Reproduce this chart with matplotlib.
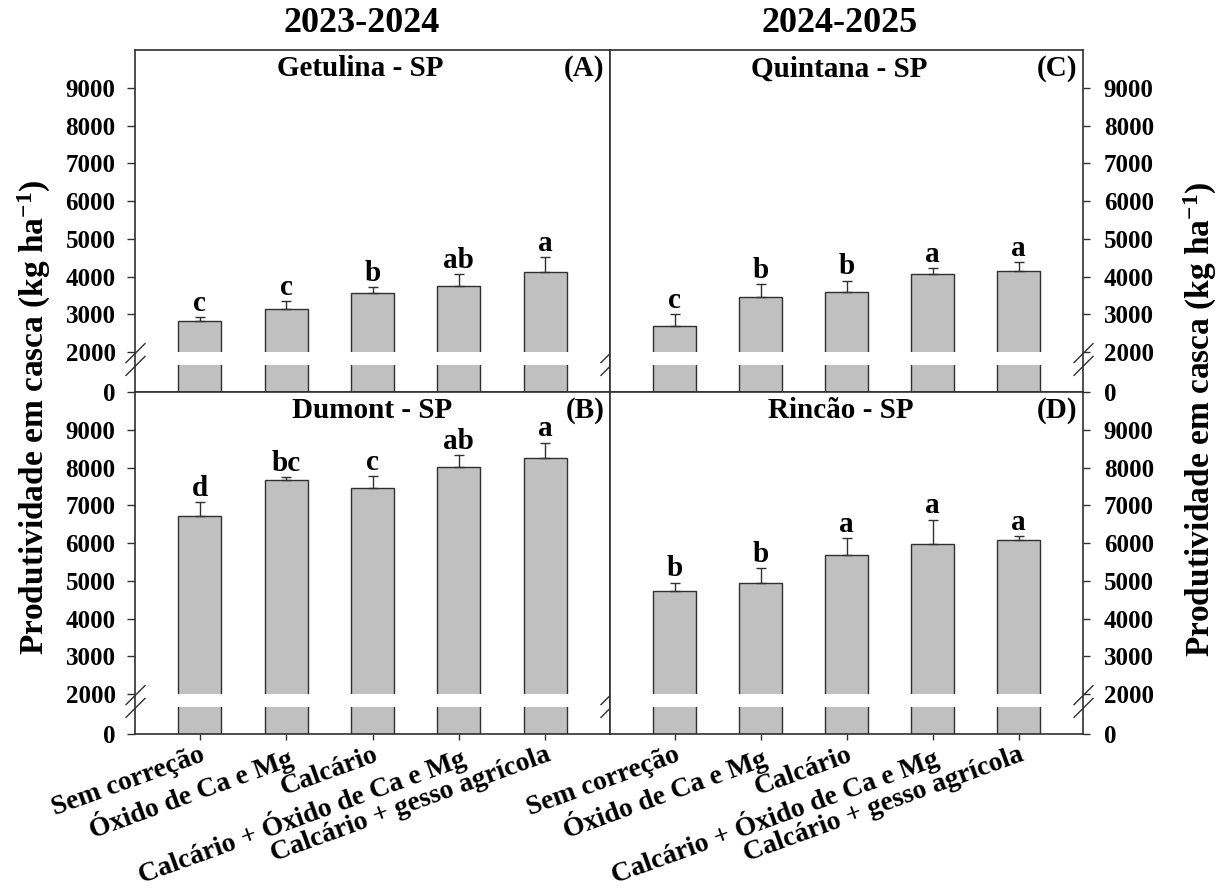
import numpy as np
import matplotlib
matplotlib.use("Agg")
import matplotlib.pyplot as plt
from matplotlib.path import Path

plt.rcParams['font.family'] = ['Liberation Serif', 'DejaVu Serif']
plt.rcParams['font.weight'] = 'bold'
plt.rcParams['mathtext.fontset'] = 'custom'
plt.rcParams['mathtext.rm'] = 'Liberation Serif:bold'
plt.rcParams['mathtext.default'] = 'rm'

# data
treatments = ["Sem correção", "Óxido de Ca e Mg", "Calcário",
              "Calcário + Óxido de Ca e Mg", "Calcário + gesso agrícola"]
years = ["2023-2024", "2024-2025"]

getulina = [2820, 3130, 3560, 3740, 4120]
getulina_err = [100, 220, 160, 325, 390]
getulina_let = ["c", "c", "b", "ab", "a"]

dumont = [6705, 7680, 7450, 8025, 8260]
dumont_err = [370, 60, 320, 300, 400]
dumont_let = ["d", "bc", "c", "ab", "a"]

quintana = [2700, 3450, 3580, 4065, 4145]
quintana_err = [300, 345, 310, 160, 245]
quintana_let = ["c", "b", "b", "a", "a"]

rincao = [4730, 4950, 5685, 5980, 6075]
rincao_err = [220, 380, 445, 640, 100]
rincao_let = ["b", "b", "a", "a", "a"]

yticks = [0, 2000, 3000, 4000, 5000, 6000, 7000, 8000, 9000]

# broken axis: 0-2000 squeezed below the break
BRK = 2000
K = 0.529


def fwd(v):
    v = np.asarray(v, dtype=float)
    return np.where(v >= BRK, v, BRK - (BRK - v) * K)


def inv(u):
    u = np.asarray(u, dtype=float)
    return np.where(u >= BRK, u, BRK - (BRK - u) / K)


gap_lo = 1335     # white band across the bars
mark_y = 1675     # centre of the // marks

brk_marker = Path([(-10, -3.6), (10, 16.4), (-10, -16.4), (10, 3.6)],
                  [Path.MOVETO, Path.LINETO, Path.MOVETO, Path.LINETO])

W, H = 1220, 893
fig = plt.figure(figsize=(12.2, 8.93), dpi=100)

lefts = [135 / W, 610 / W]
widths = [475 / W, 473 / W]
bottoms = [1 - 392 / H, 1 - 734 / H]
hgt = 342 / H

panels = [
    (0, 0, getulina, getulina_err, getulina_let, "Getulina - SP", "(A)", 0.474),
    (0, 1, dumont, dumont_err, dumont_let, "Dumont - SP", "(B)", 0.50),
    (1, 0, quintana, quintana_err, quintana_let, "Quintana - SP", "(C)", 0.484),
    (1, 1, rincao, rincao_err, rincao_let, "Rincão - SP", "(D)", 0.487),
]

x = np.arange(len(treatments))
edge = '#303030'

for col, row, vals, errs, lets, name, tag, tx in panels:
    ax = fig.add_axes([lefts[col], bottoms[row], widths[col], hgt])
    ax.set_yscale('function', functions=(fwd, inv))
    ax.bar(x, vals, width=0.5, color='#c0c0c0', edgecolor=edge, linewidth=1.0, zorder=2)
    ax.errorbar(x, vals, yerr=[np.zeros(len(vals)), errs], fmt='none',
                ecolor=edge, elinewidth=1.0, capsize=3.5, capthick=1.0, zorder=3)
    ax.axhspan(gap_lo, BRK - 5, color='white', lw=0, zorder=4)
    for xi, v, e, s in zip(x, vals, errs, lets):
        ax.annotate(s, (xi, v + e), xytext=(0, 4.5), textcoords='offset points',
                    ha='center', va='baseline', fontsize=21, fontweight='bold', zorder=6)
    ax.set_xlim(-0.75, 4.75)
    ax.set_ylim(0, 10000)
    ax.set_yticks(yticks, labels=[str(t) for t in yticks])
    ax.text(tx, 0.945, name, transform=ax.transAxes, ha='center', va='center',
            fontsize=21, fontweight='bold')
    ax.text(0.988, 0.945, tag, transform=ax.transAxes, ha='right', va='center',
            fontsize=21, fontweight='bold')
    for sp in ax.spines.values():
        sp.set_color(edge)
        sp.set_linewidth(1.2)
        sp.set_zorder(5)

    if col == 0:
        ax.tick_params(axis='y', direction='out', length=6, width=1, color=edge,
                       labelsize=18, pad=8, left=True, right=False)
    else:
        ax.tick_params(axis='y', direction='out', length=5, width=1, color=edge,
                       labelsize=18, pad=10, left=False, right=True,
                       labelleft=False, labelright=True)
    if row == 1:
        ax.set_xticks(x, labels=treatments)
        ax.tick_params(axis='x', direction='out', length=4, width=1, color=edge,
                       labelsize=20, pad=2)
        for lab in ax.get_xticklabels():
            lab.set_rotation(20)
            lab.set_ha('right')
            lab.set_va('top')
            lab.set_rotation_mode('anchor')
    else:
        ax.set_xticks([])

    # break marks on the spines
    sides = [0, 1] if col == 0 else [1]
    for sx in sides:
        ax.plot([sx], [mark_y], marker=brk_marker, markersize=23.6, mfc='none',
                mec=edge, mew=1.0, linestyle='none', clip_on=False,
                transform=ax.get_yaxis_transform(), zorder=7)

ylab = "Produtividade em casca (kg ha$^{-1}$)"
fig.text(34 / W, 0.533, ylab, rotation=90, ha='center', va='center', fontsize=24, fontweight='bold')
fig.text(1200 / W, 0.530, ylab, rotation=90, ha='center', va='center', fontsize=24, fontweight='bold')

fig.text(362 / W, 1 - 24 / H, years[0], ha='center', va='center', fontsize=26, fontweight='bold')
fig.text(840 / W, 1 - 24 / H, years[1], ha='center', va='center', fontsize=26, fontweight='bold')

fig.savefig("out.png", dpi=100)
